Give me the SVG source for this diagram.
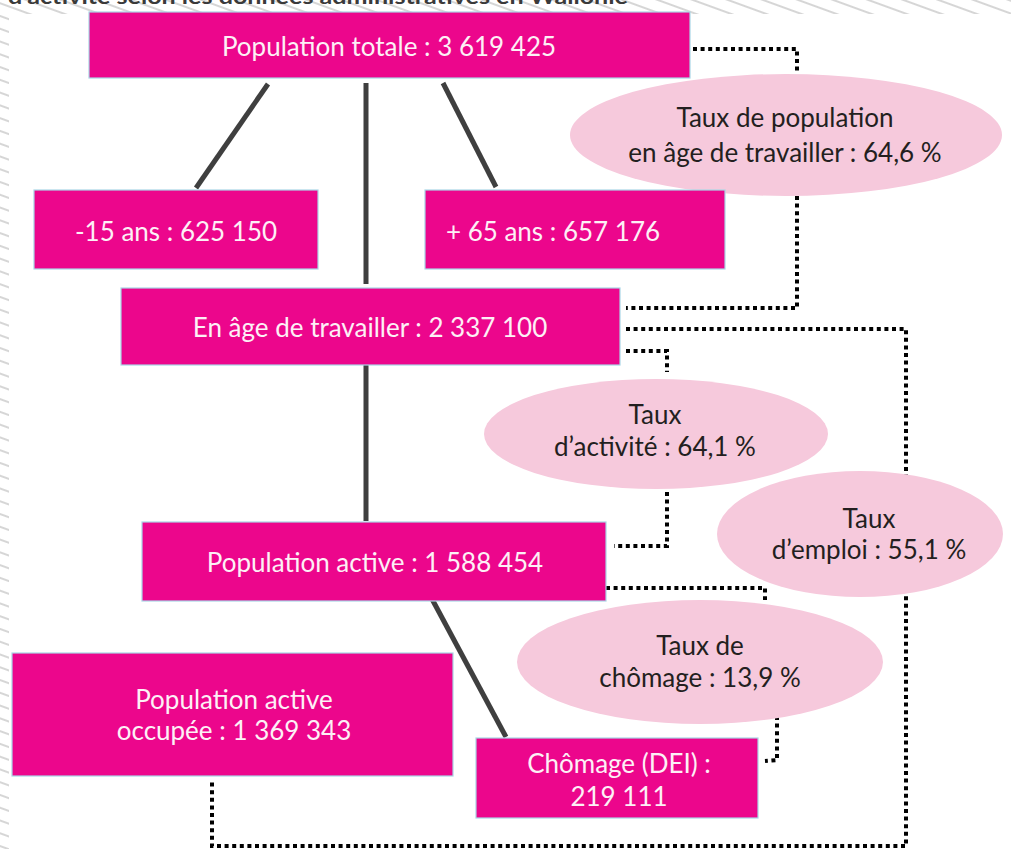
<svg xmlns="http://www.w3.org/2000/svg" width="1011" height="849" viewBox="0 0 1011 849">
<style>
.box{fill:#ec068c;stroke:#a9d6e6;stroke-width:1.2}
.ell{fill:#f6c9dc}
.bt{font-family:Lato,"Open Sans",sans-serif;font-size:26px;fill:#fdf0f6;text-anchor:middle}
.et{font-family:Lato,"Open Sans",sans-serif;font-size:26px;fill:#231f20;text-anchor:middle}
.solid{stroke:#3f3f3f;stroke-width:5;fill:none}
.dot{stroke:#000;stroke-width:4;fill:none;stroke-dasharray:4 3.6}
</style>
<defs>
<pattern id="hatch" patternUnits="userSpaceOnUse" width="12" height="12" patternTransform="rotate(20)">
<rect width="12" height="12" fill="#fff"/>
<line x1="0" y1="3" x2="12" y2="3" stroke="#d6d6d6" stroke-width="2"/>
</pattern>
</defs>
<rect width="1011" height="849" fill="#fff"/>
<rect x="0" y="0" width="1011" height="14" fill="url(#hatch)"/>
<rect x="0" y="0" width="9" height="849" fill="url(#hatch)"/>
<text x="8" y="4" font-family="Lato,'Open Sans',sans-serif" font-weight="bold" font-size="21" fill="#3a3a3a" textLength="620" lengthAdjust="spacingAndGlyphs">d’activité selon les données administratives en Wallonie</text>

<g id="connectors">
<line class="solid" x1="268" y1="84" x2="196" y2="188"/>
<line class="solid" x1="366" y1="83" x2="366" y2="284"/>
<line class="solid" x1="443" y1="83" x2="496" y2="187"/>
<line class="solid" x1="366" y1="365" x2="366" y2="521"/>
<line class="solid" x1="432" y1="599" x2="506" y2="737"/>
<polyline class="dot" points="693,49 797,49 797,73"/>
<polyline class="dot" points="797,196 797,308 626,308"/>
<polyline class="dot" points="626,329 906,329 906,846 212,846 212,782"/>
<polyline class="dot" points="626,351 667,351 667,372"/>
<polyline class="dot" points="667,492 667,546 614,546"/>
<polyline class="dot" points="606,588 765,588 765,600"/>
<polyline class="dot" points="777,716 777,760 765,761"/>
</g>

<g id="n-total">
<rect class="box" x="89" y="12" width="601" height="66"/>
<text class="bt" x="389" y="56">Population totale : 3 619 425</text>
</g>
<g id="n-taux-pop">
<ellipse class="ell" cx="786" cy="135" rx="216" ry="61"/>
<text class="et" x="785" y="127">Taux de population</text>
<text class="et" x="785" y="162">en âge de travailler : 64,6 %</text>
</g>
<g id="n-moins15">
<rect class="box" x="34" y="190" width="284" height="79"/>
<text class="bt" x="176" y="241">-15 ans : 625 150</text>
</g>
<g id="n-plus65">
<rect class="box" x="425" y="190" width="300" height="79"/>
<text class="bt" x="553" y="241">+ 65 ans : 657 176</text>
</g>
<g id="n-age-travail">
<rect class="box" x="121" y="288" width="499" height="77"/>
<text class="bt" x="370" y="337">En âge de travailler : 2 337 100</text>
</g>
<g id="n-taux-activite">
<ellipse class="ell" cx="656" cy="434" rx="172" ry="55"/>
<text class="et" x="655" y="424">Taux</text>
<text class="et" x="655" y="456">d’activité : 64,1 %</text>
</g>
<g id="n-taux-emploi">
<ellipse class="ell" cx="860" cy="534" rx="143" ry="63"/>
<text class="et" x="869" y="528">Taux</text>
<text class="et" x="869" y="559">d’emploi : 55,1 %</text>
</g>
<g id="n-pop-active">
<rect class="box" x="142" y="522" width="464" height="79"/>
<text class="bt" x="375" y="572">Population active : 1 588 454</text>
</g>
<g id="n-taux-chomage">
<ellipse class="ell" cx="700" cy="662" rx="183" ry="62"/>
<text class="et" x="700" y="655">Taux de</text>
<text class="et" x="700" y="687">chômage : 13,9 %</text>
</g>
<g id="n-occupee">
<rect class="box" x="12" y="653" width="441" height="123"/>
<text class="bt" x="234" y="709">Population active</text>
<text class="bt" x="234" y="740">occupée : 1 369 343</text>
</g>
<g id="n-chomage">
<rect class="box" x="476" y="738" width="282" height="80"/>
<text class="bt" x="619" y="773">Chômage (DEI) :</text>
<text class="bt" x="619" y="806">219 111</text>
</g>
</svg>
